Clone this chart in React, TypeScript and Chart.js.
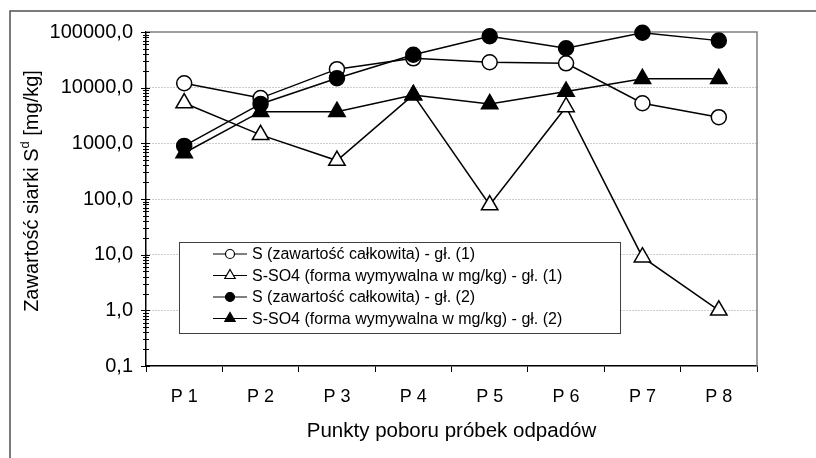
import React, { useEffect, useRef } from 'react';
import { Chart, registerables } from 'chart.js';

Chart.register(...registerables);

// ---------- data ----------
const categories = ['P 1', 'P 2', 'P 3', 'P 4', 'P 5', 'P 6', 'P 7', 'P 8'];
const sTotalDepth1 = [12000, 6500, 21500, 33700, 28600, 27400, 5250, 2950];
const so4Depth1 = [5300, 1420, 490, 7400, 78, 4500, 9, 1];
const sTotalDepth2 = [900, 5100, 14800, 39000, 84000, 51000, 97000, 70000];
const so4Depth2 = [670, 3700, 3700, 7400, 5100, 8500, 14400, 14400];
const seriesLabels = [
  'S (zawartość całkowita) - gł. (1)',
  'S-SO4 (forma wymywalna w mg/kg) - gł. (1)',
  'S (zawartość całkowita) - gł. (2)',
  'S-SO4 (forma wymywalna w mg/kg) - gł. (2)',
];
const yMajorTicks = [0.1, 1, 10, 100, 1000, 10000, 100000];
const yMinorMultipliers = [2, 3, 4, 5, 6, 7, 8, 9];
const xTitle = 'Punkty poboru próbek odpadów';
const yTitleMain = 'Zawartość siarki S';
const yTitleSup = 'd';
const yTitleEnd = ' [mg/kg]';

const FONT = "'Liberation Sans', Arial, sans-serif";

const isPow10 = (v: number) => {
  const l = Math.log10(v);
  return Math.abs(l - Math.round(l)) < 1e-9;
};
const fmt = (v: number) => v.toFixed(1).replace('.', ',');

function drawMarker(ctx: CanvasRenderingContext2D, style: string, x: number, y: number, r: number, fill: string) {
  ctx.beginPath();
  if (style === 'circle') {
    ctx.arc(x, y, r, 0, Math.PI * 2);
  } else {
    const h = r * 0.866;
    ctx.moveTo(x, y - r);
    ctx.lineTo(x + h, y + r / 2);
    ctx.lineTo(x - h, y + r / 2);
    ctx.closePath();
  }
  ctx.fillStyle = fill;
  ctx.fill();
  ctx.lineWidth = 1.2;
  ctx.strokeStyle = '#000';
  ctx.stroke();
}

const framePlugin = {
  id: 'frame',
  beforeDraw(chart: any) {
    const ctx = chart.ctx;
    ctx.save();
    ctx.strokeStyle = '#505050';
    ctx.lineWidth = 1.5;
    ctx.beginPath();
    ctx.moveTo(10, 470);
    ctx.lineTo(10, 11);
    ctx.lineTo(830, 11);
    ctx.stroke();
    ctx.restore();
  },
  beforeDatasetsDraw(chart: any) {
    const ctx = chart.ctx;
    const a = chart.chartArea;
    const y = chart.scales.y;
    ctx.save();
    // plot area border (top & right)
    ctx.strokeStyle = '#808080';
    ctx.lineWidth = 1.5;
    ctx.beginPath();
    ctx.moveTo(a.left, a.top);
    ctx.lineTo(a.right, a.top);
    ctx.lineTo(a.right, a.bottom);
    ctx.stroke();
    // y axis tick marks crossing the axis
    ctx.strokeStyle = '#000';
    ctx.lineWidth = 1;
    for (const t of y.ticks) {
      const py = Math.round(y.getPixelForValue(t.value)) + 0.5;
      const major = isPow10(t.value);
      ctx.beginPath();
      ctx.moveTo(a.left - (major ? 5 : 3), py);
      ctx.lineTo(a.left + (major ? 4 : 3), py);
      ctx.stroke();
    }
    ctx.restore();
  },
  afterDraw(chart: any) {
    const ctx = chart.ctx;
    const a = chart.chartArea;
    ctx.save();
    // y axis title with superscript
    ctx.translate(32, (a.top + a.bottom) / 2 - 8);
    ctx.rotate(-Math.PI / 2);
    ctx.fillStyle = '#000';
    ctx.textBaseline = 'middle';
    const big = `20px ${FONT}`;
    const small = `13px ${FONT}`;
    ctx.font = big;
    const w1 = ctx.measureText(yTitleMain).width;
    const w3 = ctx.measureText(yTitleEnd).width;
    ctx.font = small;
    const w2 = ctx.measureText(yTitleSup).width;
    let x = -(w1 + w2 + w3) / 2;
    ctx.font = big;
    ctx.fillText(yTitleMain, x, 0);
    x += w1;
    ctx.font = small;
    ctx.fillText(yTitleSup, x, -7);
    x += w2;
    ctx.font = big;
    ctx.fillText(yTitleEnd, x, 0);
    ctx.restore();

    // legend box
    ctx.save();
    const bx = 179, by = 242, bw = 441, bh = 91;
    ctx.fillStyle = '#fff';
    ctx.fillRect(bx, by, bw, bh);
    ctx.strokeStyle = '#404040';
    ctx.lineWidth = 1;
    ctx.strokeRect(bx + 0.5, by + 0.5, bw, bh);
    const rowY = [254, 275.5, 297, 318.5];
    chart.data.datasets.forEach((ds: any, i: number) => {
      const yy = rowY[i];
      ctx.strokeStyle = '#000';
      ctx.lineWidth = 1;
      ctx.beginPath();
      ctx.moveTo(213, yy);
      ctx.lineTo(247, yy);
      ctx.stroke();
      drawMarker(ctx, ds.pointStyle, 230, yy, ds.pointStyle === 'circle' ? 4.5 : 6, ds.pointBackgroundColor);
      ctx.fillStyle = '#000';
      ctx.font = `16px ${FONT}`;
      ctx.textBaseline = 'middle';
      ctx.fillText(ds.label, 252, yy + 1);
    });
    ctx.restore();
  },
};

export default function App() {
  const ref = useRef<HTMLCanvasElement | null>(null);
  useEffect(() => {
    if (!ref.current) return;
    const mk = (label: string, data: number[], style: string, fill: string, order: number) => ({
      label,
      data,
      borderColor: '#000',
      borderWidth: 1.5,
      pointStyle: style,
      pointRadius: style === 'circle' ? 7.5 : 9.5,
      pointBackgroundColor: fill,
      pointBorderColor: '#000',
      pointBorderWidth: 1.5,
      tension: 0,
      clip: false,
      order,
    });
    const chart = new Chart(ref.current, {
      type: 'line',
      data: {
        labels: categories,
        datasets: [
          mk(seriesLabels[0], sTotalDepth1, 'circle', '#fff', 2),
          mk(seriesLabels[1], so4Depth1, 'triangle', '#fff', 3),
          mk(seriesLabels[2], sTotalDepth2, 'circle', '#000', 0),
          mk(seriesLabels[3], so4Depth2, 'triangle', '#000', 1),
        ] as any,
      },
      options: {
        animation: false,
        responsive: false,
        devicePixelRatio: 1,
        layout: { padding: { left: 0, right: 59, top: 32, bottom: 0 } },
        plugins: { legend: { display: false }, tooltip: { enabled: false } },
        scales: {
          x: {
            type: 'category',
            offset: true,
            afterFit: (s: any) => { s.height = 92; },
            grid: {
              offset: true,
              drawOnChartArea: false,
              drawTicks: true,
              tickLength: 6,
              tickColor: '#000',
              tickWidth: 1,
            },
            border: { display: true, color: '#000', width: 1.5 },
            ticks: {
              color: '#000',
              font: { family: FONT, size: 18 },
              padding: 14,
              maxRotation: 0,
              autoSkip: false,
            },
            title: {
              display: true,
              text: xTitle,
              color: '#000',
              font: { family: FONT, size: 20.5 },
              padding: { top: 0, bottom: 14 },
            },
          },
          y: {
            type: 'logarithmic',
            min: 0.1,
            max: 100000,
            afterFit: (s: any) => { s.width = 146; },
            afterBuildTicks: (s: any) => {
              const t: any[] = [];
              yMajorTicks.forEach((m, i) => {
                t.push({ value: m, major: true });
                if (i < yMajorTicks.length - 1) yMinorMultipliers.forEach((k) => t.push({ value: m * k, major: false }));
              });
              s.ticks = t;
            },
            grid: {
              drawTicks: false,
              lineWidth: 1,
              color: (c: any) =>
                c.tick && isPow10(c.tick.value) && c.tick.value > 0.2 && c.tick.value < 50000 ? '#999' : 'rgba(0,0,0,0)',
            },
            border: { display: true, color: '#000', width: 1.5, dash: [1, 2] },
            ticks: {
              color: '#000',
              font: { family: FONT, size: 20 },
              padding: 13,
              autoSkip: false,
              callback: (v: any) => (isPow10(Number(v)) ? fmt(Number(v)) : ''),
            },
          },
        },
      } as any,
      plugins: [framePlugin],
    });
    return () => chart.destroy();
  }, []);
  return (
    <div style={{ position: 'absolute', left: 0, top: 0, width: 816, height: 458, background: '#fff' }}>
      <canvas ref={ref} width={816} height={458} style={{ display: 'block' }} />
    </div>
  );
}
